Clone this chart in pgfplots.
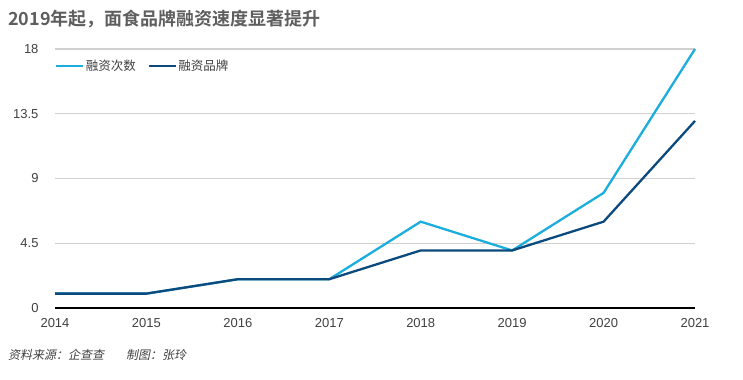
\documentclass[border=0pt]{standalone}
\usepackage{fontspec}
\usepackage{pgfplots}
\pgfplotsset{compat=1.18}
\setmainfont{Liberation Sans}
\newfontfamily\cjk{Noto Sans CJK SC}
\newfontfamily\cjkb{Noto Sans CJK SC Bold}
\newfontfamily\cjksl[FakeSlant=0.2]{Noto Sans CJK SC}
\definecolor{lightb}{HTML}{1BADDB}
\definecolor{darkb}{HTML}{0C4A7D}
\definecolor{titleg}{HTML}{5E5E5E}
\definecolor{gridg}{HTML}{D0D0D0}
\definecolor{txtg}{HTML}{404040}
\begin{document}
\begin{tikzpicture}
\path[use as bounding box] (0,0) rectangle (743bp,380bp);
\node[anchor=west, text=titleg, inner sep=0pt] at (8bp,361bp) {\fontsize{18bp}{20bp}\cjkb 2019年起，面食品牌融资速度显著提升};
\node[anchor=west, text=txtg, inner sep=0pt] at (8bp,25bp) {\fontsize{12bp}{14bp}\cjksl 资料来源：企查查\hspace{22bp}制图：张玲};
\begin{axis}[
  at={(55bp,72bp)}, anchor=origin,
  scale only axis, width=640bp, height=259bp,
  xmin=2014, xmax=2021, ymin=0, ymax=18,
  xtick={2014,2015,2016,2017,2018,2019,2020,2021},
  xticklabels={2014,2015,2016,2017,2018,2019,2020,2021},
  ytick={0,4.5,9,13.5,18},
  yticklabels={0,4.5,9,13.5,18},
  /pgf/number format/assume math mode=true,
  axis x line*=bottom,
  axis y line*=left,
  x axis line style={black, line width=2bp, -},
  y axis line style={draw=none},
  tick style={draw=none},
  ymajorgrids,
  grid style={gridg, line width=1.3bp},
  tick label style={font=\fontsize{13bp}{15bp}\selectfont, text=txtg},
  yticklabel style={xshift=-13bp},
  xticklabel style={yshift=-7bp},
  clip=false,
  legend style={at={(0,1)}, anchor=north west, xshift=0bp, yshift=-9bp, draw=none, fill=none,
    inner sep=0pt, nodes={inner sep=1.5bp},
    font=\fontsize{12.5bp}{14bp}\cjk, text=txtg,
    /tikz/every even column/.append style={column sep=10bp}},
  legend columns=2,
  legend image code/.code={\draw[#1] (0bp,0bp) -- (27bp,0bp);},
]
\addplot[lightb, line width=2.3bp] coordinates {(2014,1)(2015,1)(2016,2)(2017,2)(2018,6)(2019,4)(2020,8)(2021,18)};
\addlegendentry{融资次数}
\addplot[darkb, line width=2.3bp] coordinates {(2014,1)(2015,1)(2016,2)(2017,2)(2018,4)(2019,4)(2020,6)(2021,13)};
\addlegendentry{融资品牌}
\end{axis}
\end{tikzpicture}
\end{document}
